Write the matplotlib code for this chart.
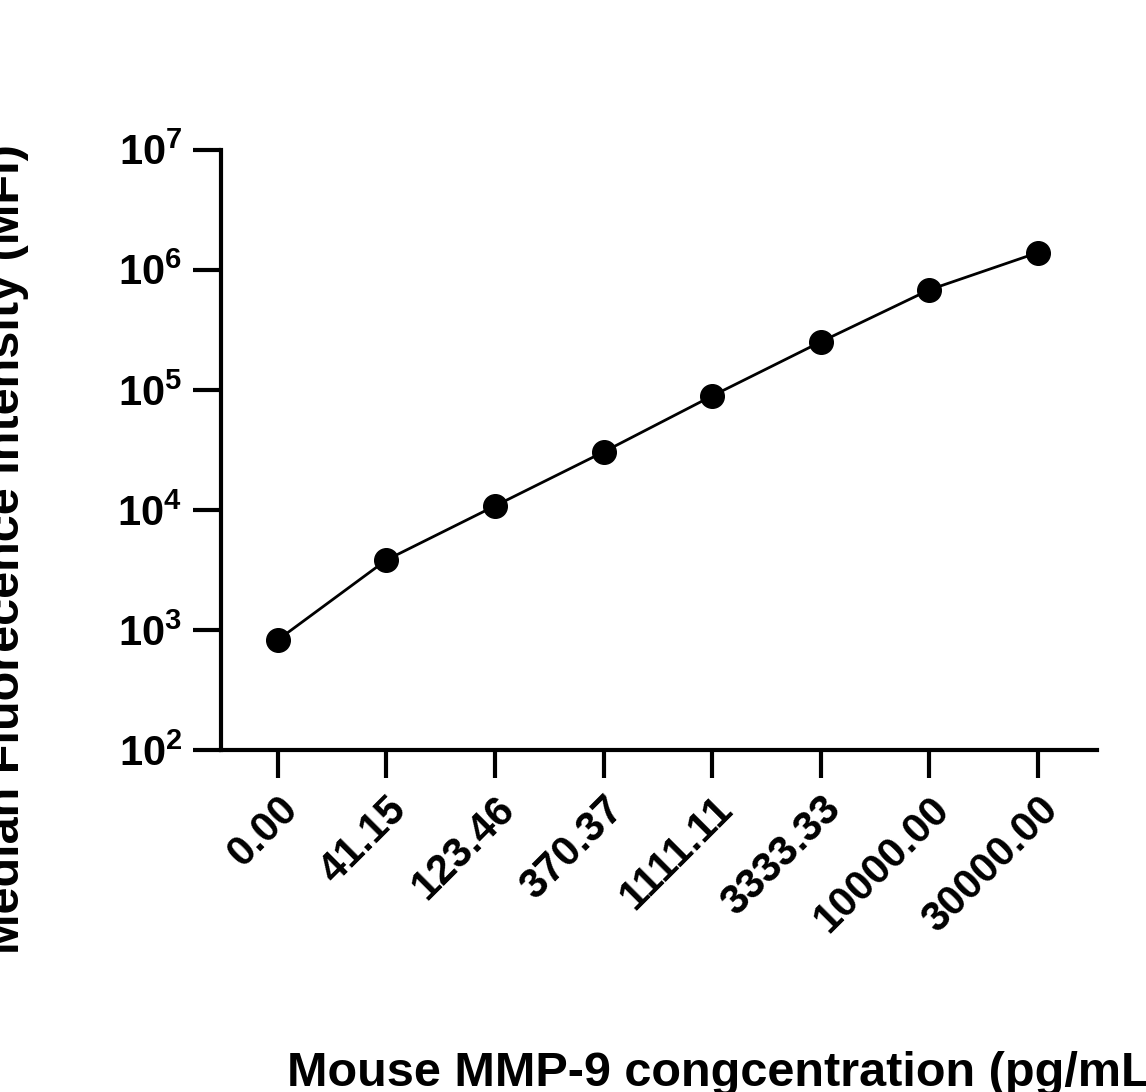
import matplotlib
matplotlib.use("Agg")
import matplotlib.pyplot as plt

concentrations = ["0.00", "41.15", "123.46", "370.37", "1111.11",
                  "3333.33", "10000.00", "30000.00"]
mfi = [826, 3830, 10800, 30400, 89000, 251000, 681000, 1390000]

plt.rcParams['font.family'] = ['Liberation Sans', 'DejaVu Sans']
plt.rcParams['font.weight'] = 'bold'

fig = plt.figure(figsize=(11.46, 10.92), dpi=100)
ax = fig.add_axes([0.193, 0.313, 0.764, 0.55])

x = list(range(len(concentrations)))
ax.plot(x, mfi, color='black', linewidth=2, marker='o', markersize=17)

ax.set_yscale('log')
ax.set_ylim(1e2, 1e7)
ax.set_xlim(-0.52, 7.54)
ax.yaxis.set_minor_locator(matplotlib.ticker.NullLocator())
ax.set_xticks(x)
ax.set_xticklabels(concentrations, rotation=45, ha='right', rotation_mode='anchor')

for s in ['top', 'right']:
    ax.spines[s].set_visible(False)
for s in ['left', 'bottom']:
    ax.spines[s].set_linewidth(3)
ax.tick_params(width=3, length=20, labelsize=30, pad=8)

ax.set_ylabel('Median Fluorecence Intensity (MFI)', fontsize=35, fontweight='bold')
ax.set_xlabel('Mouse MMP-9 congcentration (pg/mL)', fontsize=35, fontweight='bold')
ax.xaxis.set_label_coords(0.578, -0.5)
ax.yaxis.set_label_coords(-0.22, 0.335)

fig.savefig('out.png', dpi=100)
